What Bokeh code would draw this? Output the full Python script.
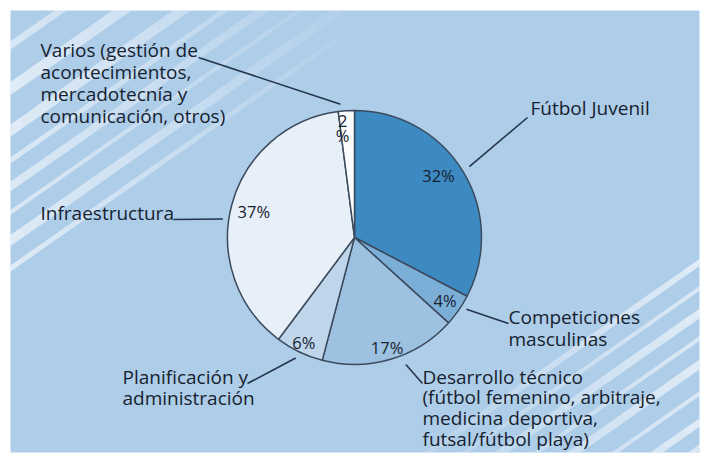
import math
import numpy as np
from bokeh.plotting import figure
from bokeh.models import Range1d
from bokeh.core.properties import value
from bokeh.embed import file_html
from bokeh.resources import INLINE

# ---------------- data ----------------
categories = ["Fútbol Juvenil", "Competiciones masculinas", "Desarrollo técnico",
              "Planificación y administración", "Infraestructura", "Varios"]
values = [32, 4, 17, 6, 37, 2]
label_lines = [
    ["Fútbol Juvenil"],
    ["Competiciones", "masculinas"],
    ["Desarrollo técnico", "(fútbol femenino, arbitraje,", "medicina deportiva,", "futsal/fútbol playa)"],
    ["Planificación y", "administración"],
    ["Infraestructura"],
    ["Varios (gestión de", "acontecimientos,", "mercadotecnía y", "comunicación, otros)"],
]
pct_labels = [f"{v}%" for v in values]

# ---------------- style / layout ----------------
colors = ["#3d89c2", "#7cafd8", "#9dc1e0", "#bed5ea", "#e7f0f8", "#fbfdff"]
BG = "#aecde9"
TXT = "#16222f"
LEAD = "#24344a"
FONT = value("Open Sans")
H = 455  # screen-to-data flip
BASE_SHIFT = 7  # correction between requested and rendered baseline


def Y(s):
    return H - s


CX, CY, R = 354, Y(237), 127

# label layout: text left x, first baseline (screen), line spacing, leader pie-side (angle, radius), leader text end
label_layout = [
    dict(x=530, y=114, dy=21, ang=31.7, rad=135, end=(527, 117)),
    dict(x=508, y=323, dy=22, ang=-32.7, rad=133, end=(508, 323)),
    dict(x=422, y=383, dy=20.7, ang=-68, rad=137, end=(422, 383)),
    dict(x=122, y=383, dy=21, ang=-116, rad=134, end=(247, 383)),
    dict(x=40, y=219, dy=21, ang=172, rad=133, end=(173, 219)),
    dict(x=40, y=56, dy=22.2, ang=96, rad=134, end=(198, 57)),
]
pct_rad = [0.82, 0.87, 0.90, 0.92, 0.82, 0.87]
pct_dang = [5, 0, 0, 0, 0, 2.5]

p = figure(width=703, height=455, output_backend="svg", toolbar_location=None,
           x_range=Range1d(10, 699), y_range=Range1d(Y(452), Y(10)),
           min_border_left=10, min_border_top=10, min_border_right=4, min_border_bottom=3)
p.axis.visible = False
p.grid.visible = False
p.outline_line_color = None
p.background_fill_color = BG
p.border_fill_color = "white"

# ---------------- background stripes ----------------
SL = 0.7  # slope of stripes (rise/run)


def stripe(x0, y0, direction, length, width, a0):
    n = 16
    ux, uy = math.cos(math.atan(SL)), math.sin(math.atan(SL))
    xs0, ys0, xs1, ys1, al = [], [], [], [], []
    for i in range(n):
        t0 = length * i / n
        t1 = length * (i + 1) / n
        xs0.append(x0 + direction * ux * t0)
        ys0.append(y0 + direction * uy * t0)
        xs1.append(x0 + direction * ux * t1)
        ys1.append(y0 + direction * uy * t1)
        al.append(a0 * (1 - i / n))
    p.segment(xs0, ys0, xs1, ys1, line_color="white", line_alpha=al, line_width=width, line_cap="butt")


# top-left stripes: (left-edge intercept screen y, width, alpha)
for c, w, a in [(45, 7, 0.5), (88, 11, 0.6), (130, 10, 0.6), (160, 5, 0.55), (186, 8, 0.55),
                (212, 4, 0.55), (240, 9, 0.6), (268, 5, 0.6)]:
    stripe(0, Y(c) - SL * 10, +1, 440, w, a)

# bottom-right stripes: (right-edge intercept screen y, width, alpha)
for c, w, a in [(262, 6, 0.6), (288, 4, 0.55), (313, 8, 0.6), (338, 4, 0.55), (364, 8, 0.6),
                (393, 4, 0.55), (422, 7, 0.6), (447, 5, 0.55), (470, 6, 0.55)]:
    stripe(705, Y(c) + SL * 6, -1, 400, w, a)

# ---------------- pie ----------------
vals = np.array(values, dtype=float)
frac = vals / vals.sum()
cum = np.concatenate([[0], np.cumsum(frac)])
ends = 90 - 360 * cum[:-1]
starts = 90 - 360 * cum[1:]
mids = (ends + starts) / 2

p.wedge(x=[CX] * len(values), y=[CY] * len(values), radius=R,
        start_angle=np.radians(starts), end_angle=np.radians(ends),
        fill_color=colors, line_color="#3b4a5c", line_width=1.5)

# percent labels
for i, (m, lab) in enumerate(zip(mids, pct_labels)):
    r = R * pct_rad[i]
    ang = math.radians(m + pct_dang[i])
    px = CX + r * math.cos(ang)
    py = CY + r * math.sin(ang)
    if vals[i] < 3:
        parts = [lab[:-1], "%"]
        p.text([px, px], [py + 7, py - 8], text=parts, text_font=FONT, text_font_size="16.5px",
               text_align="center", text_baseline="middle", text_color=TXT)
    else:
        p.text([px], [py], text=[lab], text_font=FONT, text_font_size="16.5px",
               text_align="center", text_baseline="middle", text_color=TXT)

# category labels and leaders
for lines, lay in zip(label_lines, label_layout):
    xs = [lay["x"]] * len(lines)
    ys = [Y(lay["y"] + k * lay["dy"]) + BASE_SHIFT for k in range(len(lines))]
    p.text(xs, ys, text=lines, text_font=FONT, text_font_size="19px",
           text_align="left", text_baseline="alphabetic", text_color=TXT)
    a = math.radians(lay["ang"])
    sx = CX + lay["rad"] * math.cos(a)
    sy = CY + lay["rad"] * math.sin(a)
    ex, ey = lay["end"]
    p.line([sx, ex], [sy, Y(ey)], line_color=LEAD, line_width=1.6)

open("out.html", "w").write(file_html(p, INLINE))
